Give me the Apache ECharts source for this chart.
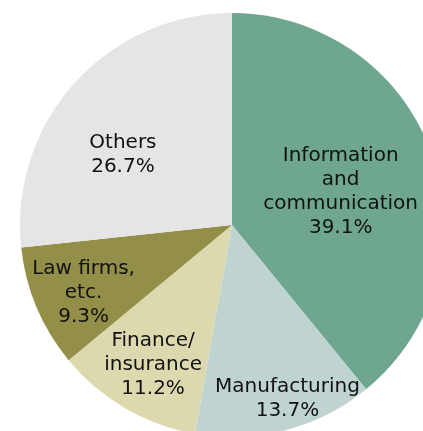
<!DOCTYPE html>
<html>
<head>
<meta charset="utf-8">
<script src="https://cdn.jsdelivr.net/npm/echarts@6/dist/echarts.min.js"></script>
<style>
html, body { margin: 0; padding: 0; background: #ffffff; }
#chart { width: 423px; height: 431px; }
</style>
</head>
<body>
<div id="chart"></div>
<script>
const categories = ['Information\nand\ncommunication', 'Manufacturing', 'Finance/\ninsurance', 'Law firms,\netc.', 'Others'];
const shares = [39.1, 13.7, 11.2, 9.3, 26.7];
const colors = ['#6fa68f', '#bfd4d1', '#ddd9ae', '#948f48', '#e5e5e5'];
const labelOffsets = [[6, 3], [28, 68], [-24, 46], [-48, 25], [-28, 3]];

const chart = echarts.init(document.getElementById('chart'), null, { renderer: 'canvas' });
chart.setOption({
  animation: false,
  backgroundColor: '#ffffff',
  series: [{
    type: 'pie',
    center: [232, 225],
    radius: [0, 212],
    startAngle: 90,
    clockwise: true,
    avoidLabelOverlap: false,
    itemStyle: { borderWidth: 0 },
    label: {
      show: true,
      position: 'inside',
      fontFamily: 'DejaVu Sans',
      fontSize: 20,
      lineHeight: 24,
      color: '#111111',
      align: 'center',
      formatter: p => p.name + '\n' + p.value.toFixed(1) + '%'
    },
    labelLine: { show: false },
    emphasis: { disabled: true },
    data: categories.map((name, i) => ({
      name: name,
      value: shares[i],
      itemStyle: { color: colors[i] },
      label: { offset: labelOffsets[i] }
    }))
  }]
});
</script>
</body>
</html>
